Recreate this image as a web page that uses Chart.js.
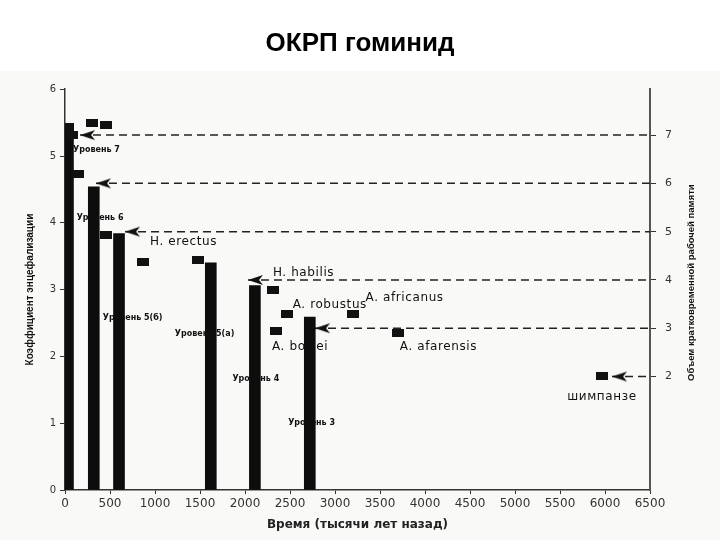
<!DOCTYPE html>
<html><head><meta charset="utf-8">
<script src="https://cdn.jsdelivr.net/npm/chart.js@4.4.1/dist/chart.umd.min.js"></script>
<style>html,body{margin:0;padding:0;background:#fff}#wrap{width:720px;height:540px;position:relative}</style>
</head><body><div id="wrap"><canvas id="c" width="720" height="540"></canvas></div>
<script>
const titleText = 'ОКРП гоминид';
const xAxisTitle = 'Время (тысячи лет назад)';
const leftAxisTitle = 'Коэффициент энцефализации';
const rightAxisTitle = 'Объем кратковременной рабочей памяти';

const xTicks = [0,500,1000,1500,2000,2500,3000,3500,4000,4500,5000,5500,6000,6500];
const leftTicks = [0,1,2,3,4,5,6];
const rightTicks = [2,3,4,5,6,7];

// bars: time (thousand years ago) vs encephalization quotient
const barX = [33, 320, 600, 1620, 2110, 2720];
const barY = [5.45, 4.54, 3.84, 3.40, 3.06, 2.59];

// square markers
const markerX = [28, 83, 305, 450, 139, 455, 870, 1480, 2310, 2470, 2340, 3200, 3700, 5970];
const markerY = [5.43, 5.31, 5.50, 5.47, 4.73, 3.81, 3.42, 3.45, 3.00, 2.63, 2.38, 2.63, 2.35, 1.71];

// working memory levels (right axis) and where their arrows point
const levelValues = [7, 6, 5, 4, 3, 2];
const levelArrowX = [167, 344, 667, 2033, 2778, 6078];

// text notes
const noteTexts = ['Уровень 7','Уровень 6','Уровень 5(б)','Уровень 5(а)','Уровень 4','Уровень 3',
  'H. erectus','H. habilis','A. robustus','A. africanus','A. boisei','A. afarensis','шимпанзе'];
const noteX = [90, 130, 420, 1220, 1860, 2480, 945, 2310, 2530, 3340, 2300, 3720, 5580];
const noteY = [5.09, 4.08, 2.57, 2.33, 1.67, 1.00, 3.72, 3.25, 2.77, 2.87, 2.14, 2.14, 1.39];
const noteSmall = [true,true,true,true,true,true,false,false,false,false,false,false,false];

function makeRect(){const c=document.createElement('canvas');c.width=12;c.height=8;const g=c.getContext('2d');g.fillStyle='#111';g.fillRect(0,0,12,8);return c;}
function makeArrow(){const c=document.createElement('canvas');c.width=34;c.height=12;const g=c.getContext('2d');g.fillStyle='#111';g.beginPath();g.moveTo(17,6);g.lineTo(32,1);g.lineTo(28,6);g.lineTo(32,11);g.closePath();g.fill();return c;}
const rectImg = makeRect();
const arrowImg = makeArrow();

const datasets = [];
datasets.push({type:'bar', data: barX.map((x,i)=>({x:x,y:barY[i]})), backgroundColor:'#0d0d0d', borderWidth:0, barThickness:11, order:1, yAxisID:'y'});
datasets.push({type:'scatter', data: markerX.map((x,i)=>({x:x,y:markerY[i]})), pointStyle:rectImg, pointRadius:5, order:0, yAxisID:'y'});
levelValues.forEach((v,i)=>{
  datasets.push({type:'line', data:[{x:levelArrowX[i],y:v},{x:6500,y:v}], yAxisID:'y2', borderColor:'#222', borderWidth:1.5, borderDash:[8,5], pointStyle:arrowImg, pointRadius:[5,0], fill:false, order:2, clip:false});
});

const bgPlugin = {id:'bg', beforeDraw(chart){const ctx=chart.ctx;ctx.save();ctx.fillStyle='#fff';ctx.fillRect(0,0,chart.width,chart.height);ctx.fillStyle='#f9f9f7';ctx.fillRect(0,71,chart.width,chart.height-71);ctx.restore();}};
const notesPlugin = {id:'notes', beforeDatasetsDraw(chart){
  const ctx=chart.ctx, xs=chart.scales.x, ys=chart.scales.y;
  ctx.save();ctx.fillStyle='#111';ctx.textBaseline='middle';ctx.textAlign='left';
  noteTexts.forEach((t,i)=>{
    if(noteSmall[i]){ctx.font='bold 8px "DejaVu Sans"';ctx.letterSpacing='0px';}
    else {ctx.font='12px "DejaVu Sans"';ctx.letterSpacing='0.6px';}
    ctx.fillText(t, xs.getPixelForValue(noteX[i]), ys.getPixelForValue(noteY[i]));
  });
  ctx.restore();
}, afterDraw(chart){
  const ctx=chart.ctx, y2=chart.scales.y2;
  ctx.save();ctx.fillStyle='#111';ctx.font='bold 9.5px "Liberation Sans"';ctx.textAlign='center';ctx.textBaseline='middle';
  ctx.translate(y2.right-29, (chart.chartArea.top+chart.chartArea.bottom)/2-7);ctx.rotate(-Math.PI/2);
  ctx.fillText(rightAxisTitle,0,0);ctx.restore();
}};

new Chart(document.getElementById('c'), {
  type:'scatter',
  data:{datasets},
  options:{
    responsive:false, animation:false, events:[],
    layout:{padding:{left:0,right:0,top:0,bottom:0}},
    plugins:{legend:{display:false}, tooltip:{enabled:false},
      title:{display:true, text:titleText, font:{family:'Liberation Sans', size:26, weight:'bold'}, color:'#000', padding:{top:28,bottom:30}}},
    scales:{
      x:{type:'linear', min:0, max:6500, offset:false,
        afterBuildTicks:s=>{s.ticks=xTicks.map(v=>({value:v}));},
        afterFit:s=>{s.height=50;},
        grid:{display:true, drawOnChartArea:false, drawTicks:true, tickLength:4, color:'#333', offset:false},
        border:{display:true, color:'#333', width:1.5},
        ticks:{font:{family:'DejaVu Sans', size:12}, color:'#333', padding:3, maxRotation:0, autoSkip:false, callback:v=>String(v)},
        title:{display:true, text:xAxisTitle, font:{family:'DejaVu Sans', weight:'bold', size:12}, color:'#222', padding:{top:0,bottom:8}}},
      y:{type:'linear', position:'left', min:0, max:6,
        afterBuildTicks:s=>{s.ticks=leftTicks.map(v=>({value:v}));},
        afterFit:s=>{s.width=65;},
        grid:{display:true, drawOnChartArea:false, drawTicks:true, tickLength:5, color:'#333'},
        border:{display:true, color:'#333', width:1.5},
        ticks:{font:{family:'DejaVu Sans', size:10}, color:'#333', padding:4, callback:v=>String(v)},
        title:{display:true, text:leftAxisTitle, font:{family:'Liberation Sans', weight:'bold', size:10}, color:'#111', padding:{top:24,bottom:0}}},
      y2:{type:'linear', position:'right', min:-0.35, max:7.95,
        afterBuildTicks:s=>{s.ticks=rightTicks.map(v=>({value:v}));},
        afterFit:s=>{s.width=70;},
        grid:{display:true, drawOnChartArea:false, drawTicks:true, tickLength:6, color:'#333'},
        border:{display:true, color:'#555', width:2},
        ticks:{font:{family:'DejaVu Sans', size:11}, color:'#333', padding:9, callback:v=>String(v)}}
    }
  },
  plugins:[bgPlugin, notesPlugin]
});
</script></body></html>
